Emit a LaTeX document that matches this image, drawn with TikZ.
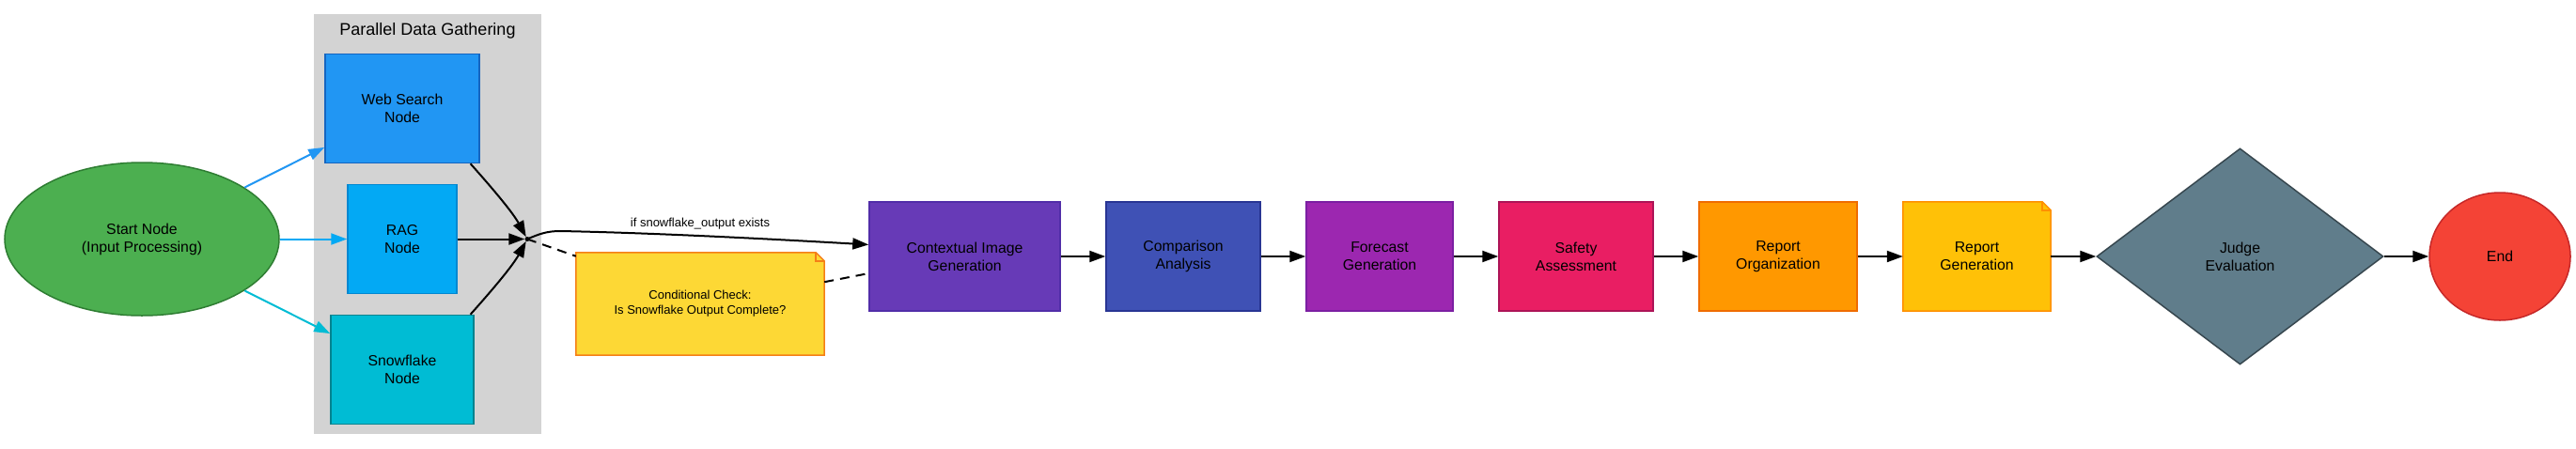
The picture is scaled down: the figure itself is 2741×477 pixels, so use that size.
\documentclass[tikz,border=0pt]{standalone}
\usepackage{fontspec}
\setmainfont{Liberation Sans}
\usetikzlibrary{shapes.geometric,arrows.meta,backgrounds}
\definecolor{clgray}{HTML}{D3D3D3}
\definecolor{stF}{HTML}{4CAF50}\definecolor{stD}{HTML}{2E7D32}
\definecolor{wbF}{HTML}{2196F3}\definecolor{wbD}{HTML}{1565C0}
\definecolor{rgF}{HTML}{03A9F4}\definecolor{rgD}{HTML}{0288D1}
\definecolor{snF}{HTML}{00BCD4}\definecolor{snD}{HTML}{00838F}
\definecolor{cxF}{HTML}{673AB7}\definecolor{cxD}{HTML}{512DA8}
\definecolor{cpF}{HTML}{3F51B5}\definecolor{cpD}{HTML}{283593}
\definecolor{fcF}{HTML}{9C27B0}\definecolor{fcD}{HTML}{7B1FA2}
\definecolor{sfF}{HTML}{E91E63}\definecolor{sfD}{HTML}{AD1457}
\definecolor{roF}{HTML}{FF9800}\definecolor{roD}{HTML}{EF6C00}
\definecolor{rgnF}{HTML}{FFC107}\definecolor{rgnD}{HTML}{FF8F00}
\definecolor{jdF}{HTML}{607D8B}\definecolor{jdD}{HTML}{37474F}
\definecolor{enF}{HTML}{F44336}\definecolor{enD}{HTML}{C62828}
\definecolor{ntF}{HTML}{FDD835}\definecolor{ntD}{HTML}{F57F17}
\newcommand\foldbox[3]{%
  \begin{scope}[on background layer]
    \filldraw[fill=#2, draw=#3, line width=1.5pt, line join=miter]
      (#1.north west) -- ([xshift=-9pt]#1.north east) -- ([yshift=-9pt]#1.north east)
      -- (#1.south east) -- (#1.south west) -- cycle;
    \draw[draw=#3, line width=1.5pt]
      ([xshift=-9pt]#1.north east) -- ([xshift=-9pt,yshift=-9pt]#1.north east)
      -- ([yshift=-9pt]#1.north east);
  \end{scope}}
\begin{document}
\begin{tikzpicture}[x=1pt,y=-1pt,
  txt/.style={align=center, font=\fontsize{15.8}{19}\selectfont},
  box/.style={txt, rectangle, draw, line width=1.5pt, inner sep=0pt, minimum height=116pt},
  arr/.style={line width=2pt, -{Triangle[length=17pt,width=12pt]}},
  dsh/.style={line width=2pt, dash pattern=on 10pt off 7pt},
  lbl/.style={font=\fontsize{13}{16}\selectfont}
]
\useasboundingbox (0,0) rectangle (2741,477);
% cluster
\node[fill=clgray, inner sep=0pt, minimum width=242pt, minimum height=447pt] (cl) at (455,238.5) {};
\node[font=\fontsize{18}{22}\selectfont] (cltitle) at (455,33) {Parallel Data Gathering};
% nodes
\node[txt, ellipse, fill=stF, draw=stD, line width=1.5pt, inner sep=0pt, minimum width=292pt, minimum height=163pt] (start) at (151,254.5) {Start Node\\(Input Processing)};
\node[box, fill=wbF, draw=wbD, minimum width=164pt] (web) at (428,115.5) {Web Search\\Node};
\node[box, fill=rgF, draw=rgD, minimum width=116pt] (rag) at (428,254.5) {RAG\\Node};
\node[box, fill=snF, draw=snD, minimum width=152pt] (snow) at (428,393.5) {Snowflake\\Node};
\node[circle, fill=black, inner sep=0pt, minimum size=5pt] (j) at (561,254.5) {};
\node[align=center, font=\fontsize{13}{16}\selectfont, inner sep=0pt, minimum width=264pt, minimum height=109pt] (note) at (745,323.5) {Conditional Check:\\Is Snowflake Output Complete?};
\foldbox{note}{ntF}{ntD}
\node[box, fill=cxF, draw=cxD, minimum width=203pt] (ctx) at (1026.5,273) {Contextual Image\\Generation};
\node[box, fill=cpF, draw=cpD, minimum width=164pt] (cmp) at (1259,273) {Comparison\\Analysis};
\node[box, fill=fcF, draw=fcD, minimum width=156pt] (fc) at (1468,273) {Forecast\\Generation};
\node[box, fill=sfF, draw=sfD, minimum width=164pt] (safe) at (1677,273) {Safety\\Assessment};
\node[box, fill=roF, draw=roD, minimum width=168pt] (rorg) at (1892,273) {Report\\Organization};
\node[txt, inner sep=0pt, minimum width=157pt, minimum height=116pt] (rgen) at (2103.5,273) {Report\\Generation};
\foldbox{rgen}{rgnF}{rgnD}
\node[txt, diamond, fill=jdF, draw=jdD, line width=1.5pt, inner sep=0pt, minimum width=305pt, minimum height=230pt] (judge) at (2383.5,273) {Judge\\Evaluation};
\node[txt, ellipse, fill=enF, draw=enD, line width=1.5pt, inner sep=0pt, minimum width=150pt, minimum height=136pt] (end) at (2660,273) {End};
% edges
\draw[arr, wbF] (start) -- (web);
\draw[arr, rgF] (start) -- (rag);
\draw[arr, snF] (start) -- (snow);
\draw[arr] (web.-39) .. controls (520,196) and (545,225) .. (j);
\draw[arr] (rag) -- (j);
\draw[arr] (snow.39) .. controls (520,313) and (545,284) .. (j);
\draw[arr] (j.center) .. controls (574,249) and (582,246) .. (596,246) .. controls (700,248) and (830,255) .. (ctx.173);
\node[lbl] (cond) at (745,238) {if snowflake\_output exists};
\draw[dsh] (j.center) -- (note.159);
\draw[dsh] (note.10) -- (ctx.190);
\draw[arr] (ctx) -- (cmp);
\draw[arr] (cmp) -- (fc);
\draw[arr] (fc) -- (safe);
\draw[arr] (safe) -- (rorg);
\draw[arr] (rorg) -- (rgen);
\draw[arr] (rgen) -- (judge);
\draw[arr] (judge) -- (end);
\end{tikzpicture}
\end{document}
